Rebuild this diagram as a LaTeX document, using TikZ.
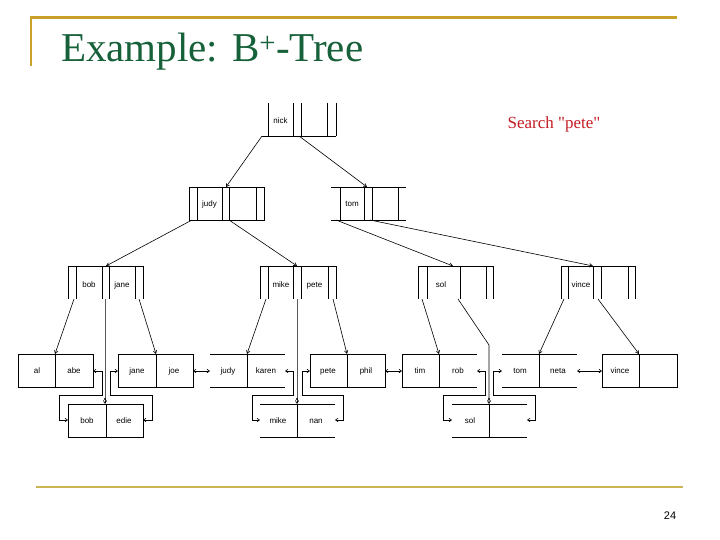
\documentclass[tikz,border=0pt]{standalone}
\usepackage{fontspec}
\setmainfont{Liberation Serif}
\newfontfamily\keyfont{Liberation Sans}
\newfontfamily\searchfont{Liberation Serif}[Ligatures=TeXOff]
\usetikzlibrary{arrows.meta}
\definecolor{gold}{RGB}{201,160,40}
\definecolor{goldb}{RGB}{204,180,84}
\definecolor{titlegreen}{RGB}{22,96,58}
\definecolor{searchred}{RGB}{196,28,36}
\begin{document}
\begin{tikzpicture}[x=1pt,y=-1pt,
  tl/.style={line width=0.75pt,black},
  ptr/.style={tl,line width=0.6pt,-{Straight Barb[length=3pt,width=3.5pt]}},
  lnk/.style={tl,line width=0.6pt,{Straight Barb[length=2.5pt,width=3.5pt]}-{Straight Barb[length=2.5pt,width=3.5pt]}},
  key/.style={font=\keyfont\fontsize{8}{9}\selectfont,inner sep=0pt,text height=6pt,text depth=2pt},
  dotm/.style={circle,fill=black,inner sep=0pt,minimum size=2.4pt}]
\useasboundingbox (0,0) rectangle (720,540);
% slide frame
\draw[gold,line width=3pt] (29.5,18) -- (677,18);
\draw[gold,line width=2.5pt] (31,17) -- (31,66);
\draw[goldb,line width=1.2pt] (36,487) -- (683,487);
\node[anchor=base west,text=titlegreen,font=\fontsize{41}{45}\selectfont,inner sep=0pt] (title) at (61,62) {Example: B\textsuperscript{+}-Tree};
\node[text=searchred,font=\searchfont\fontsize{17}{20}\selectfont,inner sep=0pt] (search) at (554,124) {Search "pete"};
\node[font=\keyfont\fontsize{11}{12}\selectfont,inner sep=0pt] (pg) at (670,516) {24};

% ---- root ----
\draw[tl] (262,136) -- (336,136);
\foreach \x in {268,293,301,327,336} \draw[tl] (\x,103) -- (\x,136);
\node[key] (nick) at (280.5,122) {nick};
% ---- level 1 ----
\draw[tl] (189,187) rectangle (264,220);
\foreach \x in {197,222,229,256} \draw[tl] (\x,187) -- (\x,220);
\node[key] (judy1) at (209.5,205) {judy};
\draw[tl] (331,187) -- (406,187) (331,220) -- (406,220);
\foreach \x in {340,364,372,398} \draw[tl] (\x,187) -- (\x,220);
\node[key] (tom1) at (352,205) {tom};
% ---- level 2 ----
\draw[tl] (68,266) -- (143,266);
\foreach \x in {68,76,102,109,135,143} \draw[tl] (\x,266) -- (\x,299);
\node[key] (bob2) at (89,285) {bob};
\node[key] (jane2) at (122,285) {jane};
\draw[tl] (260,266) -- (336,266);
\foreach \x in {260,268,293,301,328,336} \draw[tl] (\x,266) -- (\x,299);
\node[key] (mike2) at (281,285) {mike};
\node[key] (pete2) at (314.5,285) {pete};
\draw[tl] (418,266) -- (493,266);
\foreach \x in {418,427,460,486,493} \draw[tl] (\x,266) -- (\x,299);
\node[key] (sol2) at (441,285) {sol};
\draw[tl] (561,266) -- (635,266);
\foreach \x in {561,568,593,601,628,635} \draw[tl] (\x,266) -- (\x,299);
\node[key] (vince2) at (581,285) {vince};
% ---- leaves row 1 ----
\draw[tl] (18,354) rectangle (93,387) (55,354) -- (55,387);
\node[key] (al) at (37,371) {al};
\node[key] (abe) at (74,371) {abe};
\draw[tl] (118,354) rectangle (193,387) (156,354) -- (156,387);
\node[key] (jane) at (137,371) {jane};
\node[key] (joe) at (174,371) {joe};
\draw[tl] (210,354) -- (285,354) (210,387) -- (285,387) (247,354) -- (247,387);
\node[key] (judy) at (228,371) {judy};
\node[key] (karen) at (266,371) {karen};
\draw[tl] (310,354) rectangle (385,387) (347,354) -- (347,387);
\node[key] (pete) at (328,371) {pete};
\node[key] (phil) at (366,371) {phil};
\draw[tl] (402,354) -- (477,354) (402,387) -- (477,387) (402,354) -- (402,387) (439,354) -- (439,387);
\node[key] (tim) at (420,371) {tim};
\node[key] (rob) at (458,371) {rob};
\draw[tl] (502,354) -- (577,354) (502,387) -- (577,387) (539,354) -- (539,387);
\node[key] (tom) at (520,371) {tom};
\node[key] (neta) at (558,371) {neta};
\draw[tl] (602,354) rectangle (677,387) (639,354) -- (639,387);
\node[key] (vince) at (620,371) {vince};
% ---- leaves row 2 ----
\draw[tl] (68,404) rectangle (143,437) (106,404) -- (106,437);
\node[key] (bob) at (87,421) {bob};
\node[key] (edie) at (124,421) {edie};
\draw[tl] (260,404) -- (335,404) (260,437) -- (335,437) (297,404) -- (297,437);
\node[key] (mike) at (278,421) {mike};
\node[key] (nan) at (316,421) {nan};
\draw[tl] (452,404) -- (527,404) (452,437) -- (527,437) (489,404) -- (489,437);
\node[key] (sol) at (470,421) {sol};

% ---- pointer coordinates ----
\coordinate (rA) at (262,136); \coordinate (jT) at (226,187);
\coordinate (rB) at (299,136); \coordinate (tT) at (367,187);
\coordinate (jA) at (192,220); \coordinate (bjT) at (106,266);
\coordinate (jB) at (229,220); \coordinate (mpT) at (297,266);
\coordinate (tA) at (336,220); \coordinate (sT) at (453,266);
\coordinate (tB) at (370,220); \coordinate (vT) at (593,266);
\coordinate (bjA) at (74,299);  \coordinate (l1) at (55,354);
\coordinate (bjB) at (139,299); \coordinate (l2) at (156,354);
\coordinate (bjM) at (105,299); \coordinate (bjD) at (105,399); \coordinate (m1) at (105,404);
\coordinate (mpA) at (266,299); \coordinate (l3) at (247,354);
\coordinate (mpB) at (333,299); \coordinate (l4) at (347,354);
\coordinate (mpM) at (297,299); \coordinate (mpD) at (297,399); \coordinate (m2) at (297,404);
\coordinate (sA) at (422,299);  \coordinate (l5) at (439,354);
\coordinate (sM) at (458,299);  \coordinate (sK) at (489,345); \coordinate (sD) at (489,399); \coordinate (m3) at (489,404);
\coordinate (vA) at (564,299);  \coordinate (l6) at (539,354);
\coordinate (vB) at (598,299);  \coordinate (l7) at (639,354);

\draw[ptr] (rA) -- (jT);
\draw[ptr] (rB) -- (tT);
\draw[ptr] (jA) -- (bjT);
\draw[ptr] (jB) -- (mpT);
\draw[ptr] (tA) -- (sT);
\draw[ptr] (tB) -- (vT);
\draw[ptr] (bjA) -- (l1);
\draw[ptr] (bjB) -- (l2);
\draw[ptr] (bjM) -- (bjD) -- (m1);
\draw[ptr] (mpA) -- (l3);
\draw[ptr] (mpB) -- (l4);
\draw[ptr] (mpM) -- (mpD) -- (m2);
\draw[ptr] (sA) -- (l5);
\draw[ptr] (sM) -- (sK) -- (sD) -- (m3);
\draw[ptr] (vA) -- (l6);
\draw[ptr] (vB) -- (l7);
\node[dotm] (d1) at (bjD) {};
\node[dotm] (d2) at (mpD) {};
\node[dotm] (d3) at (sD) {};

% ---- leaf links ----
\draw[lnk] (93,371) -- (102,371) -- (102,395) -- (59,395) -- (59,420) -- (68,420);
\draw[lnk] (143,420) -- (152,420) -- (152,395) -- (110,395) -- (110,371) -- (118,371);
\draw[lnk] (193,371) -- (210,371);
\draw[lnk] (285,371) -- (293,371) -- (293,395) -- (252,395) -- (252,420) -- (260,420);
\draw[lnk] (335,420) -- (343,420) -- (343,395) -- (302,395) -- (302,371) -- (310,371);
\draw[lnk] (385,371) -- (402,371);
\draw[lnk] (477,371) -- (485,371) -- (485,395) -- (443,395) -- (443,420) -- (452,420);
\draw[lnk] (527,420) -- (535,420) -- (535,395) -- (493,395) -- (493,371) -- (502,371);
\draw[lnk] (577,371) -- (602,371);
\end{tikzpicture}
\end{document}
